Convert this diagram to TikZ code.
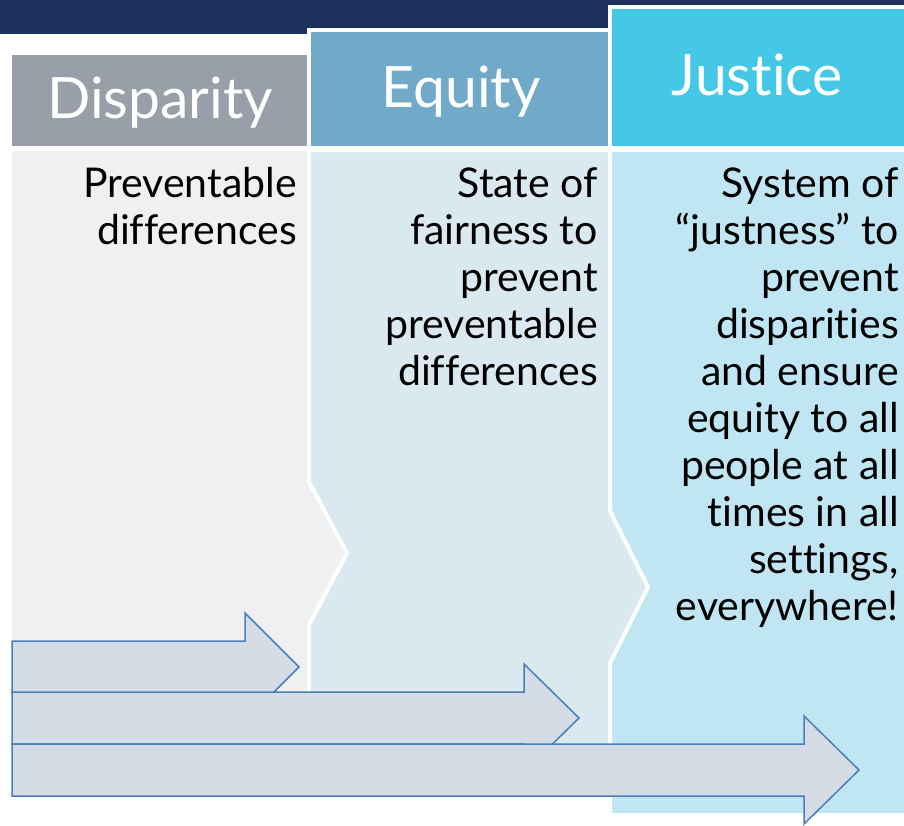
\documentclass[tikz,border=0pt]{standalone}
\usepackage{fontspec}
\setmainfont{Lato}[Ligatures=NoCommon]

\definecolor{navy}{HTML}{1C3160}
\definecolor{dispgray}{HTML}{989FA8}
\definecolor{eqblue}{HTML}{71AAC8}
\definecolor{jusblue}{HTML}{45C8E6}
\definecolor{dispbody}{HTML}{EEF0F2}
\definecolor{eqbody}{HTML}{DAE8F0}
\definecolor{jusbody}{HTML}{C0E6F4}
\definecolor{arrowfill}{HTML}{D5DCE5}
\definecolor{arrowline}{HTML}{4A7EBB}

\begin{document}
\begin{tikzpicture}
        [x=1pt, y=-1pt,
         header/.style={anchor=base, inner sep=0, text=white, font=\fontsize{57}{60}\selectfont},
         bodytext/.style={anchor=north east, align=right, inner sep=0, font=\fontsize{41}{47}\selectfont},
         panel/.style={draw=white, line width=4pt}]

        \useasboundingbox (0,0) rectangle (904,825);

        \fill[navy] (0,0) rectangle (904,34);

        \fill[dispgray] (12,55) rectangle (307,146);
        \fill[dispbody] (12,151) rectangle (352,780);

        \filldraw[panel, fill=eqblue] (309,30) rectangle (612,148);
        \filldraw[panel, fill=eqbody] (309,150) -- (652,150) -- (652,780) -- (309,780)
                -- (309,625) -- (347,553) -- (309,482) -- cycle;

        \filldraw[panel, fill=jusblue] (610,7) rectangle (910,148);
        \filldraw[panel, fill=jusbody] (610,150) -- (910,150) -- (910,815) -- (610,815)
                -- (610,663) -- (648,587) -- (610,511) -- cycle;

        \foreach \top/\head/\tip in {641/245/299, 692/524/579, 744/804/859}
        \filldraw[fill=arrowfill, draw=arrowline, line width=1.5pt]
                (12,\top) -- (\head,\top) -- (\head,\top-28) -- (\tip,\top+26)
                -- (\head,\top+80) -- (\head,\top+52) -- (12,\top+52) -- cycle;

        \node[header] (disparity) at (160,118) {Disparity};
        \node[header] (equity) at (461,107) {Equity};
        \node[header] (justice) at (757,95) {Justice};

        \node[bodytext] (disparity-text) at (297,167) {Preventable\\differences};
        \node[bodytext] (equity-text) at (598,167) {State of\\fairness to\\prevent\\preventable\\differences};
        \node[bodytext] (justice-text) at (899,167) {System of\\“justness” to\\prevent\\disparities\\and ensure\\equity to all\\people at all\\times in all\\settings,\\everywhere!};

    \end{tikzpicture}
\end{document}
